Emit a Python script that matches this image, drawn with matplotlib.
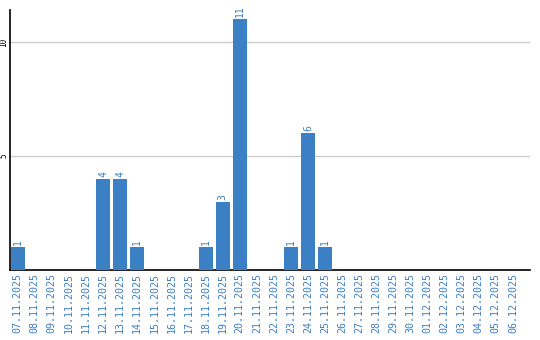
import matplotlib
matplotlib.use("Agg")
import matplotlib.pyplot as plt
import pandas as pd

dates = pd.date_range("2025-11-07", "2025-12-06", freq="D").strftime("%d.%m.%Y").tolist()
counts_by_date = {
    "07.11.2025": 1, "12.11.2025": 4, "13.11.2025": 4, "14.11.2025": 1,
    "18.11.2025": 1, "19.11.2025": 3, "20.11.2025": 11,
    "23.11.2025": 1, "24.11.2025": 6, "25.11.2025": 1,
}
values = [counts_by_date.get(d, 0) for d in dates]
yticks = [5, 10]

blue = "#3b7fc4"
fig = plt.figure(figsize=(5.4, 3.4), dpi=100)
ax = fig.add_axes([10/540, 1 - 270/340, 520/540, 260/340])
x = list(range(len(dates)))
ax.bar(x, values, width=0.82, color=blue, zorder=3)
for xi, v in zip(x, values):
    if v > 0:
        ax.text(xi, v + 0.08, str(v), rotation=90, ha="center", va="bottom",
                color=blue, fontsize=7, family="DejaVu Sans Mono")
ax.set_xlim(-0.45, 30.0)
ax.set_ylim(0, 11.4)
ax.set_yticks(yticks)
ax.set_yticklabels([str(t) for t in yticks], rotation=90, va="center",
                   fontsize=5.5, family="DejaVu Sans Mono")
ax.yaxis.grid(True, color="#cccccc", linewidth=1, zorder=0)
ax.set_xticks(x)
ax.set_xticklabels(dates, rotation=90, fontsize=7.2, color=blue,
                   family="DejaVu Sans Mono")
ax.tick_params(axis="both", length=0, pad=2)
ax.tick_params(axis="y", pad=1)
for s in ["top", "right"]:
    ax.spines[s].set_visible(False)
for s in ["left", "bottom"]:
    ax.spines[s].set_color("black")
    ax.spines[s].set_linewidth(1.2)
fig.savefig("out.png", dpi=100)
